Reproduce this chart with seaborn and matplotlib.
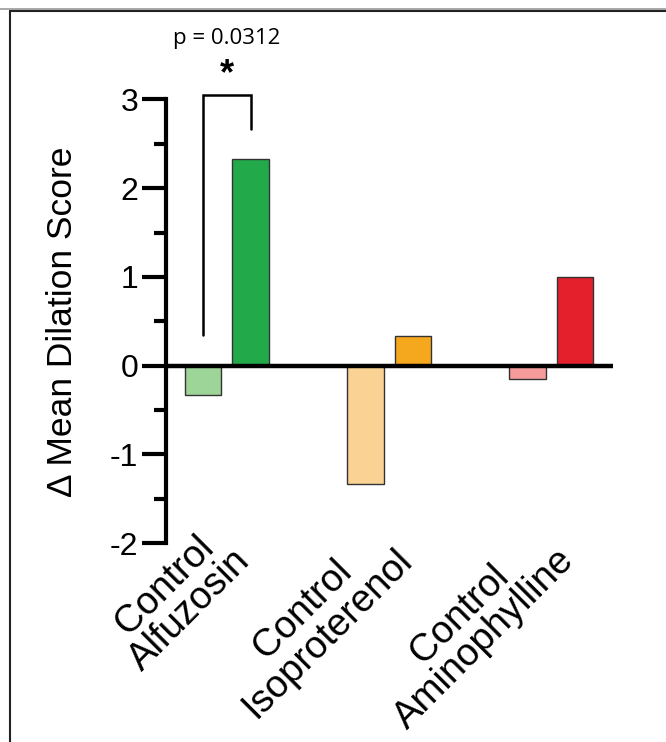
import matplotlib
matplotlib.use("Agg")
import matplotlib.pyplot as plt
from matplotlib.lines import Line2D
from matplotlib.transforms import ScaledTranslation
import pandas as pd
import seaborn as sns

groups = ["Control\nAlfuzosin", "Control\nIsoproterenol", "Control\nAminophylline"]
control_vals = [-0.33, -1.33, -0.15]
treated_vals = [2.33, 0.33, 1.0]
control_colors = ["#9dd497", "#fad394", "#f59b9b"]
treated_colors = ["#22aa4a", "#f5a81e", "#e3202b"]
p_text = "p = 0.0312"

df = pd.DataFrame({
    "group": groups * 2,
    "cond": ["Control"] * 3 + ["Treated"] * 3,
    "score": control_vals + treated_vals,
})

sns.set_style("ticks")
plt.rcParams["font.family"] = ["Liberation Sans", "DejaVu Sans"]
plt.rcParams["axes.unicode_minus"] = False
plt.rcParams["text.color"] = "black"
plt.rcParams["axes.labelcolor"] = "black"
plt.rcParams["xtick.color"] = "black"
plt.rcParams["ytick.color"] = "black"

fig = plt.figure(figsize=(6.66, 7.42), dpi=100)
ax = fig.add_axes([0.249, 0.268, 0.671, 0.598])

sns.barplot(data=df, x="group", y="score", hue="cond", hue_order=["Control", "Treated"],
            width=0.59, gap=0.23, legend=False, edgecolor="#333333", linewidth=1.0, ax=ax)
for bar, c in zip(ax.containers[0], control_colors):
    bar.set_facecolor(c)
for bar, c in zip(ax.containers[1], treated_colors):
    bar.set_facecolor(c)

ax.set_xlim(-0.377, 2.38)
ax.set_ylim(-2, 3)
ax.set_yticks([-2, -1, 0, 1, 2, 3])
ax.set_yticks([-1.5, -0.5, 0.5, 1.5, 2.5], minor=True)
ax.axhline(0, color="black", lw=3.2, zorder=5)

for s in ["top", "right", "bottom"]:
    ax.spines[s].set_visible(False)
ax.spines["left"].set_linewidth(3.0)
ax.spines["left"].set_color("black")
ax.tick_params(axis="y", which="major", length=17, width=3.0, labelsize=23, pad=3)
ax.tick_params(axis="y", which="minor", length=9, width=3.0)
ax.tick_params(axis="x", length=0, labelsize=27.5, pad=-9)
shift = ScaledTranslation(-0.2, 0.13, fig.dpi_scale_trans)
for lab in ax.get_xticklabels():
    lab.set_rotation(45)
    lab.set_ha("right")
    lab.set_rotation_mode("anchor")
    lab.set_multialignment("center")
    lab.set_linespacing(0.95)
    lab.set_transform(lab.get_transform() + shift)

ax.set_xlabel("")
ax.set_ylabel("Δ Mean Dilation Score", fontsize=25.5, labelpad=22)

# significance bracket
x1, x2 = -0.147, 0.147
ax.plot([x1, x1, x2, x2], [0.34, 3.05, 3.05, 2.67], color="black", lw=1.8,
        clip_on=False, solid_joinstyle="miter")
ax.text(0.0, 3.28, "*", ha="center", va="center", fontsize=26, fontweight="bold")
ax.text(0.0, 3.69, p_text, ha="center", va="center", fontsize=16, family="Open Sans")

# frame lines around the figure
fig.add_artist(Line2D([0, 1], [1 - 9 / 742] * 2, color="#999999", lw=1.2))
fig.add_artist(Line2D([10.5 / 666, 1], [1 - 11 / 742] * 2, color="#222222", lw=1.5))
fig.add_artist(Line2D([10.5 / 666] * 2, [0, 1 - 11 / 742], color="#222222", lw=1.5))

fig.savefig("out.png", dpi=100)
